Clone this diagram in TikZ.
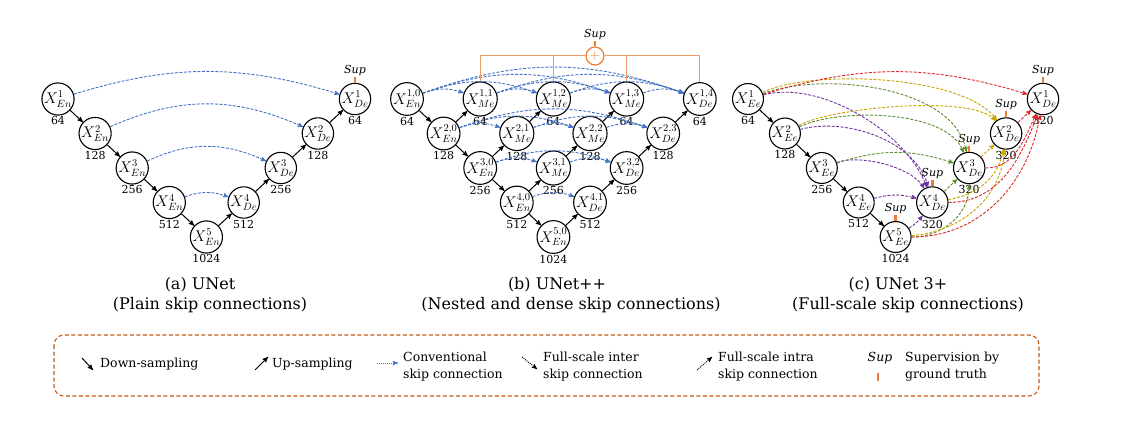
\RequirePackage{fix-cm}
\documentclass[tikz,border=0pt]{standalone}
\usepackage{fontspec}
\setmainfont{DejaVu Serif}
\usepackage{tikz}
\usetikzlibrary{positioning, arrows}
\DeclareMathSizes{15.5}{15.5}{10.5}{8}
\definecolor{skipblue}{HTML}{4472C4}
\definecolor{supor}{HTML}{ED7D31}
\definecolor{boxor}{HTML}{C55A11}
\definecolor{busor}{HTML}{EE9A66}
\definecolor{deepA}{HTML}{E02424}
\definecolor{deepB}{HTML}{C9A400}
\definecolor{deepC}{HTML}{5E8C31}
\definecolor{deepD}{HTML}{7030A0}
\tikzset {
    >=stealth',
    unit/.style={circle, draw, line width=1.1pt, minimum size=30pt, inner sep=0pt,
        font=\fontsize{15.5}{15.5}\selectfont},
    num/.style={font=\fontsize{11}{11}\selectfont, inner sep=1pt},
    down/.style={->, line width=1pt},
    skip/.style={->, skipblue, dash pattern=on 3pt off 1.5pt, line width=0.9pt},
    full/.style={->, dash pattern=on 3pt off 1.5pt, line width=0.9pt},
    suptext/.style={font=\fontsize{11}{11}\selectfont\itshape, inner sep=1pt},
    suptick/.style={supor, line width=2.5pt},
    bus/.style={busor, line width=1pt},
    caption/.style={font=\fontsize{16}{18}\selectfont},
    legend/.style={font=\fontsize{12.5}{17}\selectfont, align=left, anchor=west, inner sep=0pt}
}

\begin{document}
\begin{tikzpicture}[x=1pt, y=1pt]
\useasboundingbox (0,0) rectangle (1123,421);

% (a) UNet
\foreach \i/\cn in {1/64,2/128,3/256,4/512,5/1024}
    \node[unit, label={[num]below:\cn}] (ae\i) at ({58+37.1*(\i-1)}, {322-34.5*(\i-1)}) {$X^{\i}_{En}$};
\foreach \i/\cn in {1/64,2/128,3/256,4/512}
    \node[unit, label={[num]below:\cn}] (ad\i) at ({355-37.1*(\i-1)}, {322-34.5*(\i-1)}) {$X^{\i}_{De}$};
\foreach \i/\j in {1/2,2/3,3/4,4/5}
    \draw[down] (ae\i) -- (ae\j);
\draw[down] (ae5) -- (ad4);
\foreach \i/\j in {1/2,2/3,3/4}
    \draw[down] (ad\j) -- (ad\i);
\draw[skip] (ae1) to[bend left=17] (ad1);
\draw[skip] (ae2) to[bend left=24] (ad2);
\draw[skip] (ae3) to[bend left=25] (ad3);
\draw[skip] (ae4) to[bend left=20] (ad4);
\node[suptext, above=6pt of ad1] (supa) {Sup};
\draw[suptick] (supa) -- (ad1);
\node[caption] (tita) at (200,136) {(a) UNet};
\node[caption] (suba) at (210,116) {(Plain skip connections)};

% (b) UNet++
\foreach \r/\cn in {1/64,2/128,3/256,4/512,5/1024} {
    \pgfmathtruncatemacro\last{5-\r}
    \foreach \j in {0,...,\last} {
        \ifnum\j=0 \def\sub{En}\else\ifnum\j=\last \def\sub{De}\else\def\sub{Me}\fi\fi
        \node[unit, label={[num]below:\cn}] (b\r\j) at ({407+36.6*(\r-1+2*\j)}, {322-34.5*(\r-1)}) {$X^{\r,\j}_{\sub}$};
    }
}
\foreach \r/\s in {1/2,2/3,3/4,4/5}
    \draw[down] (b\r0) -- (b\s0);
\foreach \s in {2,...,5} {
    \pgfmathtruncatemacro\last{5-\s}
    \pgfmathtruncatemacro\t{\s-1}
    \foreach \j in {0,...,\last} {
        \pgfmathtruncatemacro\k{\j+1}
        \draw[down] (b\s\j) -- (b\t\k);
    }
}
\foreach \r in {1,...,4} {
    \pgfmathtruncatemacro\last{5-\r}
    \foreach \i in {0,...,\last}
        \foreach \j in {\i,...,\last} {
            \ifnum\j>\i \draw[skip] (b\r\i) to[bend left=20] (b\r\j); \fi
        }
}
\node[circle, draw=supor, line width=1.2pt, minimum size=18pt, inner sep=0pt,
    text=supor, font=\fontsize{14}{14}\selectfont] (plus) at (595,365) {$+$};
\node[suptext, above=5pt of plus] (supb) {Sup};
\draw[suptick] (supb) -- (plus);
\draw[bus] (b11.north) |- (plus.west);
\draw[bus] (b14.north) |- (plus.east);
\draw[bus] (b12.north) -- (b12.north |- plus.center);
\draw[bus] (b13.north) -- (b13.north |- plus.center);
\node[caption] (titb) at (557,136) {(b) UNet++};
\node[caption] (subb) at (571,116) {(Nested and dense skip connections)};

% (c) UNet 3+
\foreach \i/\cn in {1/64,2/128,3/256,4/512,5/1024}
    \node[unit, label={[num]below:\cn}] (ce\i) at ({748+36.9*(\i-1)}, {322-34.5*(\i-1)}) {$X^{\i}_{Ee}$};
\foreach \i in {1,...,4}
    \node[unit, label={[num]below:320}] (cd\i) at ({1043-36.9*(\i-1)}, {322-34.5*(\i-1)}) {$X^{\i}_{De}$};
\foreach \i/\j in {1/2,2/3,3/4,4/5}
    \draw[down] (ce\i) -- (ce\j);
\foreach \n in {cd1,cd2,cd3,cd4,ce5} {
    \node[suptext, above=6pt of \n] (sup-\n) {Sup};
    \draw[suptick] (sup-\n) -- (\n);
}
% into X_De^4
\draw[full, deepD] (ce1) to[out=15, in=110, looseness=0.8] (cd4);
\draw[full, deepD] (ce2) to[out=15, in=105, looseness=0.87] (cd4);
\draw[full, deepD] (ce3) to[out=20, in=120, looseness=0.7] (cd4);
\draw[full, deepD] (ce4) to[bend left=15] (cd4);
\draw[full, deepD] (ce5) to[bend right=10] (cd4);
% into X_De^3
\draw[full, deepC] (ce1) to[out=20, in=100, looseness=0.8] (cd3);
\draw[full, deepC] (ce2) to[out=25, in=110, looseness=0.7] (cd3);
\draw[full, deepC] (ce3) to[bend left=18] (cd3);
\draw[full, deepC] (cd4) -- (cd3);
\draw[full, deepC] (ce5) to[out=0, in=-90] (cd3);
% into X_De^2
\draw[full, deepB] (ce1) to[out=25, in=125, looseness=0.6] (cd2);
\draw[full, deepB] (ce2) to[out=30, in=130, looseness=0.46] (cd2);
\draw[full, deepB] (cd3) -- (cd2);
\draw[full, deepB] (cd4) to[out=10, in=-100] (cd2);
\draw[full, deepB] (ce5) to[out=5, in=-95] (cd2);
% into X_De^1
\draw[full, deepA] (ce1) to[bend left=17] (cd1);
\draw[full, deepA] (cd2) -- (cd1);
\draw[full, deepA] (cd3) to[out=0, in=-115] (cd1);
\draw[full, deepA] (cd4) to[out=0, in=-110] (cd1);
\draw[full, deepA] (ce5) to[out=0, in=-100] (cd1);
\node[caption] (titc) at (898,136) {(c) UNet 3+};
\node[caption] (subc) at (908,116) {(Full-scale skip connections)};

% legend
\draw[boxor, line width=1.1pt, dash pattern=on 4pt off 2.5pt, rounded corners=10pt] (54,86) rectangle (1039,25);
\coordinate (dsa) at (82,63);
\coordinate (dsb) at (93,51);
\draw[down] (dsa) -- (dsb);
\node[legend] (dstext) at (100,57) {Down-sampling};
\coordinate (usa) at (255,51);
\coordinate (usb) at (268,64);
\draw[down] (usa) -- (usb);
\node[legend] (ustext) at (272,57) {Up-sampling};
\coordinate (csa) at (377,58);
\coordinate (csb) at (398,58);
\draw[skip, dash pattern=on 1pt off 1pt] (csa) -- (csb);
\node[legend] (cstext) at (403,54.5) {Conventional\\skip connection};
\coordinate (fea) at (522,64);
\coordinate (feb) at (537,52);
\draw[full, dash pattern=on 1pt off 1pt] (fea) -- (feb);
\node[legend] (fetext) at (543,54.5) {Full-scale inter\\skip connection};
\coordinate (faa) at (697,51);
\coordinate (fab) at (712,64);
\draw[full, dash pattern=on 1pt off 1pt] (faa) -- (fab);
\node[legend] (fatext) at (718,54.5) {Full-scale intra\\skip connection};
\node[suptext, font=\fontsize{12.5}{12.5}\selectfont\itshape] (supl) at (880,63) {Sup};
\coordinate (tka) at (878,48);
\coordinate (tkb) at (878,40);
\draw[suptick] (tka) -- (tkb);
\node[legend] (sltext) at (905,54.5) {Supervision by\\ground truth};
\end{tikzpicture}
\end{document}
